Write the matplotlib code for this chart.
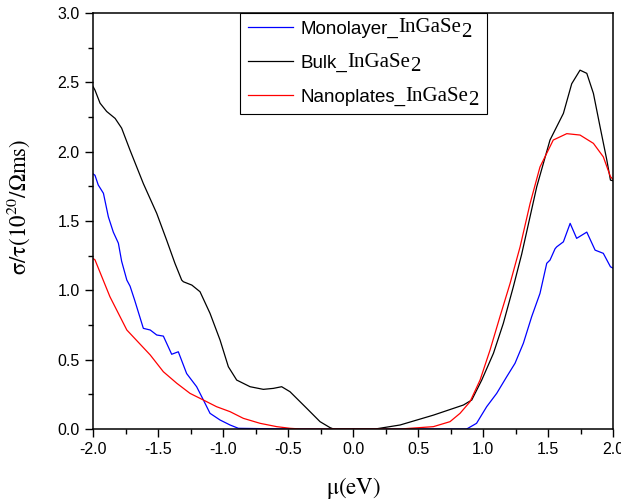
import matplotlib as mpl
mpl.use('Agg')
import matplotlib.pyplot as plt
from matplotlib.ticker import MultipleLocator, FormatStrFormatter

plt.rcParams['font.family'] = ['Liberation Sans', 'DejaVu Sans']
plt.rcParams['mathtext.fontset'] = 'stix'

# monolayer (blue)
mono_x = [-2.0, -1.985, -1.96, -1.92, -1.882, -1.844, -1.805, -1.78, -1.74, -1.715, -1.68,
          -1.613, -1.56, -1.51, -1.459, -1.395, -1.344, -1.28, -1.203, -1.151, -1.10,
          -1.023, -0.946, -0.882, -0.5, 0.0, 0.5, 0.874, 0.95, 1.028, 1.105, 1.182,
          1.246, 1.31, 1.374, 1.438, 1.49, 1.515, 1.554, 1.567, 1.618, 1.67, 1.72,
          1.798, 1.862, 1.925, 1.98, 2.0]
mono_y = [1.84, 1.83, 1.76, 1.70, 1.53, 1.42, 1.34, 1.21, 1.074, 1.03, 0.93,
          0.726, 0.714, 0.678, 0.67, 0.539, 0.557, 0.40, 0.305, 0.209, 0.113,
          0.065, 0.029, 0.005, 0.0, 0.0, 0.0, 0.0, 0.041, 0.161, 0.257, 0.377,
          0.474, 0.618, 0.81, 0.978, 1.195, 1.218, 1.30, 1.314, 1.35, 1.483, 1.375,
          1.42, 1.29, 1.267, 1.17, 1.16]

# bulk (black)
bulk_x = [-2.0, -1.985, -1.946, -1.895, -1.83, -1.78, -1.715, -1.613, -1.51, -1.433,
          -1.37, -1.318, -1.305, -1.24, -1.177, -1.10, -1.023, -0.959, -0.895, -0.792,
          -0.69, -0.613, -0.549, -0.485, -0.356, -0.254, -0.177, -0.15, 0.0, 0.17,
          0.362, 0.618, 0.849, 0.913, 0.99, 1.08, 1.156, 1.233, 1.297, 1.413, 1.515,
          1.618, 1.682, 1.746, 1.798, 1.849, 1.90, 1.952, 1.98, 2.0]
bulk_y = [2.47, 2.444, 2.35, 2.29, 2.24, 2.17, 2.01, 1.77, 1.555, 1.36,
          1.195, 1.074, 1.062, 1.038, 0.99, 0.834, 0.642, 0.449, 0.353, 0.305,
          0.286, 0.293, 0.305, 0.269, 0.149, 0.053, 0.01, 0.0, 0.0, 0.0,
          0.029, 0.10, 0.173, 0.209, 0.353, 0.546, 0.762, 1.026, 1.26, 1.747, 2.084,
          2.276, 2.49, 2.588, 2.565, 2.42, 2.18, 1.94, 1.795, 1.79]

# nanoplates (red)
nano_x = [-2.0, -1.985, -1.87, -1.74, -1.56, -1.459, -1.356, -1.254, -1.151, -1.05,
          -0.946, -0.844, -0.715, -0.587, -0.485, -0.4, 0.0, 0.362, 0.618, 0.746,
          0.823, 0.90, 0.977, 1.054, 1.13, 1.208, 1.285, 1.362, 1.438, 1.54, 1.644,
          1.746, 1.849, 1.925, 1.98, 2.0]
nano_y = [1.23, 1.22, 0.954, 0.714, 0.534, 0.413, 0.33, 0.257, 0.209, 0.161,
          0.125, 0.077, 0.041, 0.017, 0.005, 0.0, 0.0, 0.0, 0.017, 0.053,
          0.113, 0.197, 0.353, 0.57, 0.81, 1.05, 1.314, 1.627, 1.89, 2.084, 2.13,
          2.12, 2.06, 1.963, 1.82, 1.80]

labels = ['Monolayer_', 'Bulk_', 'Nanoplates_']
formula = 'InGaSe'

fig = plt.figure(figsize=(6.21, 5.01), dpi=100)
ax = fig.add_axes([0.1498, 0.1437, 0.8374, 0.8303])

ax.plot(mono_x, mono_y, color='#0000ff', lw=0.9, label=labels[0])
ax.plot(bulk_x, bulk_y, color='black', lw=0.9, label=labels[1])
ax.plot(nano_x, nano_y, color='#ff0000', lw=0.9, label=labels[2])

ax.set_xlim(-2, 2)
ax.set_ylim(0, 3)
ax.xaxis.set_major_locator(MultipleLocator(0.5))
ax.xaxis.set_minor_locator(MultipleLocator(0.25))
ax.yaxis.set_major_locator(MultipleLocator(0.5))
ax.yaxis.set_minor_locator(MultipleLocator(0.25))
ax.xaxis.set_major_formatter(FormatStrFormatter('%.1f'))
ax.yaxis.set_major_formatter(FormatStrFormatter('%.1f'))
ax.tick_params(which='major', direction='out', length=6, width=1, labelsize=11.5)
ax.tick_params(which='minor', direction='out', length=3.5, width=1)
for s in ax.spines.values():
    s.set_linewidth(1.1)

ax.set_xlabel(r'$\mathrm{\mu(eV)}$', fontsize=16.5, labelpad=13)
ax.set_ylabel(r'$\mathrm{\sigma/\tau(10^{20}/\Omega ms)}$', fontsize=16.5)
ax.yaxis.set_label_coords(-0.118, 0.535)

# legend box stretched to the reference width; serif formula added after the labels
leg = ax.legend(loc='upper left', bbox_to_anchor=(0.283, 0.0, 0.475, 1.0), mode='expand',
                borderaxespad=0, fontsize=13.5, handlelength=2.4, fancybox=False,
                framealpha=1, edgecolor='black', borderpad=0.4, labelspacing=0.9,
                handletextpad=0.4)
leg.get_frame().set_linewidth(0.8)

fig.canvas.draw()
r = fig.canvas.get_renderer()
W, H = fig.bbox.width, fig.bbox.height
for t in leg.get_texts():
    bb = t.get_window_extent(r)
    f = fig.text(bb.x1 / W, (bb.y0 + 0.5) / H, formula, family='Liberation Serif',
                 fontsize=15, va='bottom', ha='left')
    fb = f.get_window_extent(r)
    fig.text(fb.x1 / W, (bb.y0 - 4) / H, '2', family='Liberation Serif',
             fontsize=15, va='bottom', ha='left')

fig.savefig('out.png', dpi=100)
